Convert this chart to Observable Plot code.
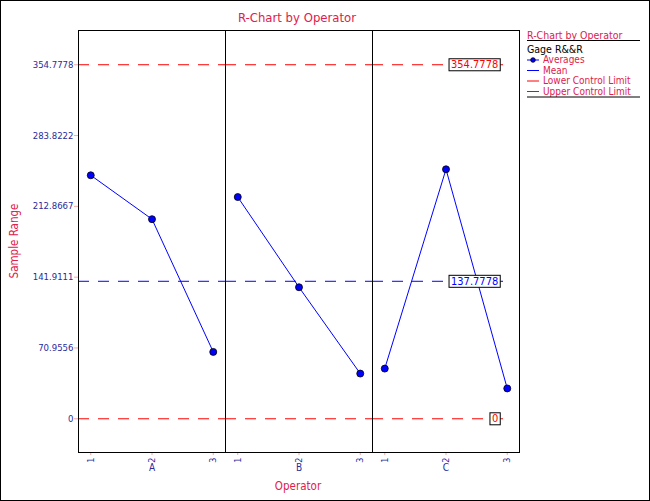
<!DOCTYPE html>
<html><head><meta charset="utf-8">
<script src="https://cdn.jsdelivr.net/npm/d3@7"></script>
<script src="https://cdn.jsdelivr.net/npm/@observablehq/plot@0.6"></script>
<style>
body{margin:0;background:#fff;}
#wrap{position:relative;width:650px;height:501px;}
#wrap svg{display:block;}
</style></head><body><div id="wrap"></div>
<script>
const operators = ["A", "B", "C"];
const trials = [1, 2, 3];
const averagesA = [244, 200, 67];
const averagesB = [222.2, 131.8, 45.3];
const averagesC = [50.3, 250, 30.4];
const yTicks = [0, 70.9556, 141.9111, 212.8667, 283.8222, 354.7778];
const limitNames = ["Upper Control Limit", "Mean", "Lower Control Limit"];
const limitValues = [354.7778, 137.7778, 0];
const limitLabels = ["354.7778", "137.7778", "0"];
const limitColors = ["#ff0000", "#0000ff", "#ff0000"];
const chartTitle = "R-Chart by Operator";
const xLabel = "Operator";
const yLabel = "Sample Range";
const legendTitle = "R-Chart by Operator";
const legendSub = "Gage R&&R";
const legendItems = ["Averages", "Mean", "Lower Control Limit", "Upper Control Limit"];
const legendColors = ["#0000ff", "#0000ff", "#ff0000", "#ff0000"];

const series = [averagesA, averagesB, averagesC];
const data = operators.flatMap((op, i) => trials.map((t, j) => ({operator: op, trial: t, value: series[i][j]})));
const xDomain = [0.8, 3.2];
const lastOp = operators[operators.length - 1];
const limits = operators.flatMap(op => limitValues.map((v, k) => ({
  operator: op, value: v, color: limitColors[k], label: limitLabels[k],
  x1: xDomain[0], x2: op === lastOp ? trials[trials.length - 1] : xDomain[1]
})));
const labelData = limits.filter(d => d.operator === lastOp);

const crimson = "#e0204c";
const navy = "#2a2a9c";
const tickPink = "#f2a8a8";
const FONT = "'DejaVu Sans Condensed', 'DejaVu Sans', sans-serif";

const plot = Plot.plot({
  width: 650, height: 501,
  marginLeft: 78, marginRight: 131, marginTop: 30, marginBottom: 49,
  style: {fontFamily: FONT, fontSize: "9.5px", background: "white", overflow: "visible"},
  fx: {domain: operators, padding: 0, label: null},
  x: {domain: xDomain, label: null},
  y: {domain: [-33.8, 389.1], label: null},
  color: {type: "identity"},
  marks: [
    Plot.axisY(yTicks, {tickFormat: d => `${d}`, tickSize: 4, tickPadding: 1, stroke: tickPink, fill: navy, label: null}),
    Plot.axisX([1, 2, 3], {tickRotate: -90, tickSize: 3, tickPadding: 2, stroke: tickPink, fill: navy, label: null, fontSize: 9}),
    Plot.axisFx({anchor: "bottom", tickSize: 0, tickPadding: 11, fill: navy, label: null, fontSize: 10}),
    Plot.ruleY(limits, {fx: "operator", y: "value", x1: "x1", x2: "x2", stroke: "color", strokeDasharray: "11,9", strokeWidth: 1}),
    Plot.line(data, {fx: "operator", x: "trial", y: "value", stroke: "#0000ff", strokeWidth: 1}),
    Plot.dot(data, {fx: "operator", x: "trial", y: "value", r: 3.5, fill: "#0000ff", stroke: "black", strokeWidth: 0.8}),
    Plot.text(labelData, {fx: "operator", x: trials[trials.length - 1], y: "value", text: "label", fill: "color", dx: -9, textAnchor: "end", fontSize: 11}),
    Plot.frame({stroke: "black", strokeWidth: 1})
  ]
});

document.getElementById("wrap").appendChild(plot);
const svg = d3.select(plot);

// boxes around limit labels
svg.selectAll('g[aria-label="text"] text').each(function() {
  const bb = this.getBBox();
  const r = document.createElementNS("http://www.w3.org/2000/svg", "rect");
  r.setAttribute("x", bb.x - 2);
  r.setAttribute("y", bb.y + 0.5);
  r.setAttribute("width", bb.width + 4);
  r.setAttribute("height", bb.height - 1);
  r.setAttribute("fill", "white");
  r.setAttribute("stroke", "black");
  r.setAttribute("stroke-width", 1);
  const tr = this.getAttribute("transform");
  if (tr) r.setAttribute("transform", tr);
  this.parentNode.insertBefore(r, this);
});

// outer border
svg.append("rect").attr("x", 0.5).attr("y", 0.5).attr("width", 649).attr("height", 500)
  .attr("fill", "none").attr("stroke", "black");

// titles
svg.append("text").attr("x", 297).attr("y", 17).attr("text-anchor", "middle").attr("dominant-baseline", "central")
  .attr("fill", crimson).style("font-size", "13px").style("font-family", FONT).text(chartTitle);
svg.append("text").attr("x", 298).attr("y", 486).attr("text-anchor", "middle").attr("dominant-baseline", "central")
  .attr("fill", crimson).style("font-size", "11.5px").style("font-family", FONT).text(xLabel);
svg.append("text").attr("transform", "translate(14,241) rotate(-90)").attr("text-anchor", "middle").attr("dominant-baseline", "central")
  .attr("fill", crimson).style("font-size", "11.5px").style("font-family", FONT).text(yLabel);

// legend
const lg = svg.append("g").attr("text-anchor", "start").style("font-family", FONT).style("font-size", "10px");
const lx = 527;
lg.append("text").attr("x", lx).attr("y", 35).attr("text-anchor", "start").attr("dominant-baseline", "central").attr("fill", crimson).style("font-size", "10.5px").text(legendTitle);
lg.append("line").attr("x1", lx).attr("x2", 640).attr("y1", 40.5).attr("y2", 40.5).attr("stroke", "black");
lg.append("text").attr("x", lx).attr("y", 48.5).attr("text-anchor", "start").attr("dominant-baseline", "central").attr("fill", "black").style("font-size", "10.5px").text(legendSub);
const rowY = [59.5, 70, 80.5, 91];
legendItems.forEach((name, i) => {
  const y = rowY[i];
  lg.append("line").attr("x1", lx).attr("x2", lx + 12).attr("y1", y + 0.5).attr("y2", y + 0.5).attr("stroke", legendColors[i]);
  if (i === 0) lg.append("circle").attr("cx", lx + 6).attr("cy", y + 0.5).attr("r", 2.3).attr("fill", "#0000ff").attr("stroke", "black").attr("stroke-width", 0.8);
  lg.append("text").attr("x", lx + 16).attr("y", y).attr("text-anchor", "start").attr("dominant-baseline", "central").attr("fill", crimson).text(name);
});
lg.append("line").attr("x1", lx).attr("x2", 640).attr("y1", 97).attr("y2", 97).attr("stroke", "black");
</script>
</body></html>
